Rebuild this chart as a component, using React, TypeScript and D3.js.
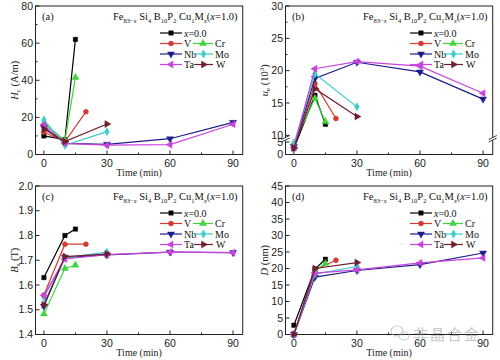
import React from "react";
import * as d3 from "d3";

const seriesNames = ["x=0.0", "V", "Cr", "Nb", "Mo", "Ta", "W"];
const seriesColors = ["#000000", "#d23a32", "#3fd43f", "#1c1c8a", "#3ccccc", "#c844dc", "#6e1f2e"];
const seriesMarkers = ["square", "circle", "up", "down", "diamond", "left", "right"];

const seriesTimes = [
  [0, 10, 15],
  [0, 10, 20],
  [0, 10, 15],
  [0, 10, 30, 60, 90],
  [0, 10, 30],
  [0, 10, 30, 60, 90],
  [0, 10, 30],
];

const hcValues = [
  [10, 8, 62],
  [12, 7, 23],
  [17, 7.5, 41.5],
  [14.5, 6, 5.5, 8.5, 17.3],
  [18.6, 5, 12.3],
  [16, 6, 5, 5.3, 16.3],
  [13.8, 7, 16.4],
];

const ueValues = [
  [2.4, 16.2, 11.7],
  [3, 18, 12.6],
  [4.6, 15.7, 12.1],
  [3.2, 18.8, 21.3, 19.8, 15.6],
  [4.2, 19.5, 14.4],
  [2.8, 20.3, 21.4, 20.7, 16.5],
  [2.6, 17.2, 12.9],
];

const bsValues = [
  [1.63, 1.8, 1.826],
  [1.56, 1.765, 1.765],
  [1.483, 1.667, 1.68],
  [1.515, 1.712, 1.722, 1.733, 1.731],
  [1.55, 1.71, 1.733],
  [1.558, 1.705, 1.723, 1.733, 1.731],
  [1.52, 1.715, 1.725],
];

const dValues = [
  [2.8, 19.8, 22.8],
  [0, 19.6, 22.5],
  [0, 19.3, 21.5],
  [0, 17.4, 19.4, 21.2, 24.7],
  [0, 18.3, 20.6],
  [0, 18.6, 19.6, 21.7, 23.2],
  [0, 20, 21.8],
];

const xTicks = [0, 30, 60, 90];
const xMinorTicks = [15, 45, 75];

const PL = 35.5, PR = 242.7, PT = 6, PB = 154.5;
const SERIF = "'Liberation Serif', 'DejaVu Serif', serif";
const SANS = "'Liberation Sans', Arial, sans-serif";

const xScale = d3.scaleLinear().domain([-4, 94.6]).range([PL, PR]);

function markerPath(kind: string): { d: string; rot: number } {
  const size = 22;
  switch (kind) {
    case "square": return { d: d3.symbol(d3.symbolSquare, 20)()!, rot: 0 };
    case "circle": return { d: d3.symbol(d3.symbolCircle, 20)()!, rot: 0 };
    case "diamond": return { d: d3.symbol(d3.symbolDiamond, 20)()!, rot: 0 };
    case "up": return { d: d3.symbol(d3.symbolTriangle, size)()!, rot: 0 };
    case "down": return { d: d3.symbol(d3.symbolTriangle, size)()!, rot: 180 };
    case "left": return { d: d3.symbol(d3.symbolTriangle, size)()!, rot: -90 };
    case "right": return { d: d3.symbol(d3.symbolTriangle, size)()!, rot: 90 };
  }
  return { d: d3.symbol(d3.symbolCircle, 20)()!, rot: 0 };
}

function Marker({ x, y, i }: { x: number; y: number; i: number }) {
  const m = markerPath(seriesMarkers[i]);
  return (
    <path d={m.d} transform={`translate(${x},${y}) rotate(${m.rot})`} fill={seriesColors[i]} stroke={seriesColors[i]} strokeWidth={0.4} />
  );
}

function Legend() {
  const rows = [33, 43.5, 54, 64.5];
  const items: { i: number; x1: number; x2: number; tx: number; row: number }[] = [
    { i: 0, x1: 160, x2: 182, tx: 184, row: 0 },
    { i: 1, x1: 160, x2: 182, tx: 184, row: 1 },
    { i: 2, x1: 193, x2: 213, tx: 215, row: 1 },
    { i: 3, x1: 160, x2: 182, tx: 184, row: 2 },
    { i: 4, x1: 194, x2: 213, tx: 215, row: 2 },
    { i: 5, x1: 160, x2: 182, tx: 184, row: 3 },
    { i: 6, x1: 194, x2: 213, tx: 216, row: 3 },
  ];
  return (
    <g>
      <text x={113} y={20} fontFamily={SERIF} fontSize={10.5} fill="#111">
        Fe<tspan fontSize={6.5} dy={2.5}>83−<tspan fontStyle="italic">x</tspan></tspan>
        <tspan dy={-2.5}> Si</tspan><tspan fontSize={6.5} dy={2.5}>4</tspan>
        <tspan dy={-2.5}> B</tspan><tspan fontSize={6.5} dy={2.5}>10</tspan>
        <tspan dy={-2.5}>P</tspan><tspan fontSize={6.5} dy={2.5}>2</tspan>
        <tspan dy={-2.5}> Cu</tspan><tspan fontSize={6.5} dy={2.5}>1</tspan>
        <tspan dy={-2.5}>M</tspan><tspan fontSize={6.5} dy={2.5} fontStyle="italic">x</tspan>
        <tspan dy={-2.5}>(</tspan><tspan fontStyle="italic">x</tspan><tspan>=1.0)</tspan>
      </text>
      {items.map((it) => {
        const y = rows[it.row];
        return (
          <g key={it.i}>
            <line x1={it.x1} x2={it.x2} y1={y} y2={y} stroke={seriesColors[it.i]} strokeWidth={1.2} />
            <Marker x={(it.x1 + it.x2) / 2} y={y} i={it.i} />
            <text x={it.tx} y={y + 3.5} fontFamily={SERIF} fontSize={10} fill="#111">
              {it.i === 0 ? (<><tspan fontStyle="italic">x</tspan>=0.0</>) : seriesNames[it.i]}
            </text>
          </g>
        );
      })}
    </g>
  );
}

type PanelProps = {
  ox: number; oy: number; label: string;
  yScale: d3.ScaleLinear<number, number>;
  yTicks: number[]; yMinor: number[]; fmt: (v: number) => string;
  values: number[][]; ylabel: React.ReactNode; broken?: boolean;
};

function Panel({ ox, oy, label, yScale, yTicks, yMinor, fmt, values, ylabel, broken }: PanelProps) {
  const line = d3.line<[number, number]>().x((d) => xScale(d[0])).y((d) => yScale(d[1]));
  return (
    <g transform={`translate(${ox},${oy})`}>
      <rect x={PL} y={PT} width={PR - PL} height={PB - PT} fill="white" stroke="#222" strokeWidth={1} />
      {xTicks.map((t) => (
        <g key={"x" + t}>
          <line x1={xScale(t)} x2={xScale(t)} y1={PB} y2={PB - 4} stroke="#222" />
          <text x={xScale(t)} y={166.5} textAnchor="middle" fontFamily={SANS} fontSize={10.5} fill="#222">{t}</text>
        </g>
      ))}
      {xMinorTicks.map((t) => (
        <line key={"xm" + t} x1={xScale(t)} x2={xScale(t)} y1={PB} y2={PB - 2} stroke="#222" />
      ))}
      {yTicks.map((t) => (
        <g key={"y" + t}>
          <line x1={PL} x2={PL + 4} y1={yScale(t)} y2={yScale(t)} stroke="#222" />
          <text x={33} y={yScale(t) + 3.7} textAnchor="end" fontFamily={SANS} fontSize={10.5} fill="#222">{fmt(t)}</text>
        </g>
      ))}
      {yMinor.map((t) => (
        <line key={"ym" + t} x1={PL} x2={PL + 2} y1={yScale(t)} y2={yScale(t)} stroke="#222" />
      ))}
      {broken && [PL, PR].map((bx) => (
        <g key={"br" + bx}>
          <rect x={bx - 1} y={137} width={2} height={3.5} fill="white" />
          <line x1={bx - 4} y1={139.5} x2={bx + 4} y2={135.5} stroke="#222" strokeWidth={0.9} />
          <line x1={bx - 4} y1={142} x2={bx + 4} y2={138} stroke="#222" strokeWidth={0.9} />
        </g>
      ))}
      {values.map((vals, i) => {
        const pts: [number, number][] = vals.map((v, k) => [seriesTimes[i][k], v]);
        return (
          <g key={"s" + i}>
            <path d={line(pts)!} fill="none" stroke={seriesColors[i]} strokeWidth={1.2} />
            {pts.map((p, k) => (
              <Marker key={k} x={xScale(p[0])} y={yScale(p[1])} i={i} />
            ))}
          </g>
        );
      })}
      <text x={42} y={19.5} fontFamily={SERIF} fontSize={10.5} fill="#111">{label}</text>
      <Legend />
      <text x={(PL + PR) / 2} y={175.5} textAnchor="middle" fontFamily={SERIF} fontSize={10} fill="#222">Time (min)</text>
      <text transform={`translate(18,${(PT + PB) / 2}) rotate(-90)`} textAnchor="middle" fontFamily={SERIF} fontSize={10.5} fill="#222">{ylabel}</text>
    </g>
  );
}

export default function App() {
  const yA = d3.scaleLinear().domain([0, 80]).range([PB, PT]);
  const yB = d3.scaleLinear().domain([0, 5, 10, 30]).range([PB, 142, 135.3, PT]);
  const yC = d3.scaleLinear().domain([1.4, 2.0]).range([PB, PT]);
  const yD = d3.scaleLinear().domain([0, 45]).range([PB, PT]);
  const f0 = (v: number) => String(v);
  const f1 = d3.format(".1f");
  return (
    <svg width={500} height={360} style={{ position: "absolute", left: 0, top: 0, background: "white" }}>
      <rect width={500} height={360} fill="white" />
      <Panel ox={0} oy={0} label="(a)" yScale={yA} yTicks={[0, 20, 40, 60, 80]} yMinor={[10, 30, 50, 70]} fmt={f0} values={hcValues}
        ylabel={<><tspan fontStyle="italic">H</tspan><tspan fontSize={7} dy={2}>c</tspan><tspan dy={-2}> (A/m)</tspan></>} />
      <Panel ox={250} oy={0} label="(b)" yScale={yB} yTicks={[0, 5, 10, 15, 20, 25, 30]} yMinor={[12.5, 17.5, 22.5, 27.5]} fmt={f0} values={ueValues} broken
        ylabel={<><tspan fontStyle="italic">u</tspan><tspan fontSize={7} dy={2}>e</tspan><tspan dy={-2}> (10</tspan><tspan fontSize={7} dy={-4}>3</tspan><tspan dy={4}>)</tspan></>} />
      <Panel ox={0} oy={180} label="(c)" yScale={yC} yTicks={[1.4, 1.5, 1.6, 1.7, 1.8, 1.9, 2.0]} yMinor={[]} fmt={f1} values={bsValues}
        ylabel={<><tspan fontStyle="italic">B</tspan><tspan fontSize={7} dy={2}>s</tspan><tspan dy={-2}> (T)</tspan></>} />
      <Panel ox={250} oy={180} label="(d)" yScale={yD} yTicks={[0, 5, 10, 15, 20, 25, 30, 35, 40, 45]} yMinor={[]} fmt={f0} values={dValues}
        ylabel={<><tspan fontStyle="italic">D</tspan><tspan> (nm)</tspan></>} />
      <g opacity={0.55}>
        <ellipse cx={397} cy={331} rx={6} ry={5} fill="none" stroke="#aaa" strokeWidth={1.2} />
        <ellipse cx={404} cy={336} rx={5} ry={4} fill="none" stroke="#aaa" strokeWidth={1.2} />
        <text x={413} y={340} fontFamily="'Noto Sans CJK SC', sans-serif" fontSize={15} letterSpacing={2} fill="#999">非晶合金</text>
      </g>
    </svg>
  );
}
